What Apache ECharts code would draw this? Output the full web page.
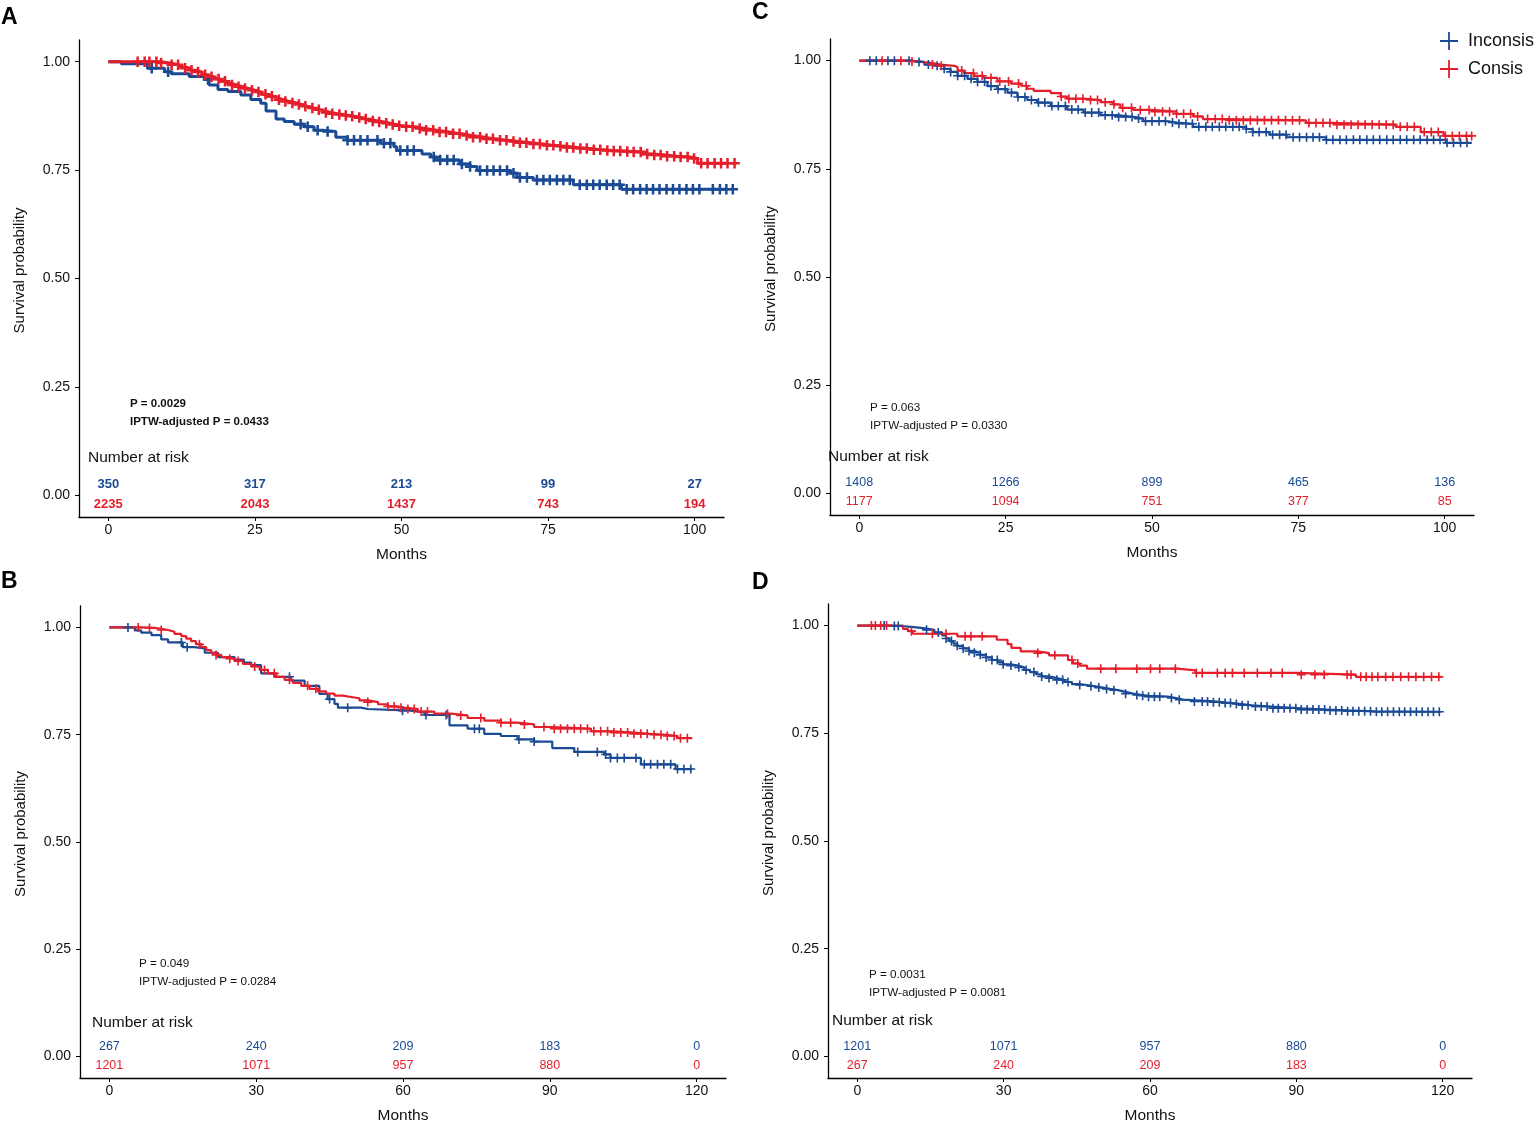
<!DOCTYPE html>
<html><head><meta charset="utf-8">
<script src="https://cdn.jsdelivr.net/npm/echarts@6/dist/echarts.min.js"></script>
<style>html,body{margin:0;padding:0;background:#fff}#c{width:1535px;height:1125px}</style>
</head><body><div id="c"></div>
<script>
// ================= DATA =================
const groupNames = ['Inconsis', 'Consis'];

// ---- Panel A ----
const aInconsisSteps = [[0,1],[2.2,0.995],[6.7,0.985],[9.6,0.977],[10.7,0.972],[13.8,0.966],[16.4,0.959],[17.2,0.946],[18.7,0.936],[20.4,0.931],[22.6,0.923],[24.3,0.913],[26,0.904],[26.9,0.886],[28.6,0.868],[30,0.862],[31.7,0.856],[33.4,0.85],[35.1,0.842],[36.5,0.839],[38.8,0.826],[40.8,0.819],[46.4,0.812],[48.7,0.804],[49.2,0.795],[53.5,0.787],[55,0.78],[56,0.773],[59.9,0.764],[61.7,0.758],[62.9,0.749],[68.5,0.743],[69.7,0.733],[72.5,0.727],[79.3,0.716],[87.5,0.706],[107.1,0.706]];
const aConsisSteps = [[0,1],[9,0.997],[10.5,0.993],[12,0.988],[13,0.985],[14,0.98],[15,0.976],[16,0.97],[17,0.965],[18,0.96],[19,0.955],[20,0.95],[21,0.946],[22,0.942],[23,0.938],[24,0.934],[25,0.93],[26,0.925],[27,0.92],[28,0.916],[29,0.912],[30,0.908],[31,0.905],[32,0.901],[33,0.897],[34,0.893],[35,0.889],[36,0.886],[37,0.883],[38,0.88],[39,0.878],[40,0.876],[41,0.874],[42,0.871],[43,0.868],[44,0.866],[45,0.863],[46,0.861],[47,0.858],[48,0.855],[49,0.852],[50,0.85],[52,0.846],[54,0.842],[56,0.838],[58,0.834],[60,0.83],[62,0.826],[64,0.822],[66,0.819],[68,0.816],[70,0.813],[72,0.81],[74,0.807],[76,0.805],[78,0.802],[80,0.8],[82,0.797],[84,0.795],[86,0.794],[88,0.793],[89.5,0.792],[91,0.787],[93,0.785],[95,0.782],[97,0.78],[99,0.777],[100.5,0.766],[107.1,0.766]];
const aInconsisCensor = [7.4,10.2,17.0,32.8,34.0,35.7,37.4,40.8,41.9,43.0,44.2,45.9,47.0,48.1,49.8,51.0,52.1,55.5,56.6,57.8,58.9,60.3,61.7,63.4,64.6,65.7,66.8,68.0,69.1,70.2,71.4,73.1,74.2,75.3,76.5,77.6,78.7,80.4,81.6,82.7,83.8,85.0,86.1,87.2,88.4,89.5,90.7,91.8,92.9,94.0,95.2,96.3,97.4,98.6,99.7,100.8,103.1,104.3,105.4,106.5];
const aConsisCensor = [5.0,6.2,7.0,8.2,9.0,10.8,11.9,13.1,14.2,15.3,16.5,17.6,18.8,19.9,21.1,22.2,23.3,24.5,25.6,26.8,27.9,29.1,30.2,31.4,32.5,33.6,34.8,35.9,37.1,38.2,39.4,40.5,41.6,42.8,43.9,45.1,46.2,47.4,48.5,49.6,50.8,51.9,53.1,54.2,55.4,56.5,57.6,58.8,59.9,61.1,62.2,63.4,64.5,65.6,66.8,67.9,69.1,70.2,71.3,72.5,73.6,74.8,75.9,77.1,78.2,79.3,80.5,81.6,82.8,83.9,85.1,86.2,87.3,88.5,89.6,90.8,91.9,93.1,94.2,95.3,96.5,97.6,98.8,99.9,101.1,102.2,103.4,104.5,105.6,106.8];
const aRiskTimes = [0,25,50,75,100];
const aRiskInconsis = [350,317,213,99,27];
const aRiskConsis = [2235,2043,1437,743,194];
const aTicks = [0,25,50,75,100];

// ---- Panel C ----
const cInconsisSteps = [[0,1],[8.8,0.997],[11.1,0.991],[12.8,0.988],[14.5,0.981],[15.6,0.974],[16.8,0.965],[18.5,0.958],[20.2,0.951],[21.9,0.941],[23.6,0.934],[25.3,0.926],[27,0.916],[28.7,0.909],[30.4,0.903],[32.7,0.895],[35.5,0.887],[38.3,0.88],[41.2,0.874],[44,0.87],[46.8,0.866],[48.5,0.86],[52.5,0.857],[54.2,0.854],[57,0.847],[66.1,0.842],[67.2,0.835],[70.1,0.829],[73,0.823],[79.7,0.817],[100.2,0.81],[104.6,0.81]];
const cConsisSteps = [[0,1],[8.3,0.998],[10,0.995],[12.2,0.991],[13.9,0.988],[16.2,0.985],[16.8,0.977],[17.9,0.971],[19.6,0.965],[21.3,0.96],[23.6,0.952],[25.9,0.947],[27.6,0.942],[28.7,0.935],[29.8,0.93],[32.7,0.925],[34.4,0.917],[35.5,0.912],[38.3,0.909],[41.2,0.904],[43.4,0.899],[44.6,0.891],[46.8,0.886],[49.7,0.882],[54.2,0.877],[57,0.871],[58.7,0.865],[62.7,0.862],[76.3,0.856],[80.8,0.852],[91.6,0.847],[95.9,0.835],[99.8,0.826],[104.6,0.826]];
const cInconsisCensor = [1.8,2.9,4.9,6.0,8.5,10.2,11.8,13.3,14.5,15.6,16.8,18.0,19.1,20.2,21.4,22.5,23.7,24.9,26.0,27.1,28.3,29.4,30.6,31.7,32.9,34.0,35.2,36.3,37.4,38.6,39.7,40.9,42.0,43.2,44.3,45.5,46.6,47.7,48.9,50.0,51.2,52.3,53.5,54.6,55.8,56.9,58.0,59.2,60.3,61.5,62.6,63.8,64.9,66.1,67.2,68.3,69.5,70.6,71.8,72.9,74.1,75.2,76.4,77.5,78.6,79.8,80.9,82.1,83.2,84.4,85.5,86.7,87.8,88.9,90.1,91.2,92.4,93.5,94.7,95.8,97.0,98.1,99.2,100.4,101.5,102.7,103.8];
const cConsisCensor = [3.9,7.1,9.0,12.5,14.0,17.5,19.5,21.0,22.5,24.0,25.5,27.2,28.5,34.5,35.8,37.0,38.2,39.5,40.7,42.0,43.5,45.0,46.5,48.0,49.5,50.5,51.8,53.0,54.2,55.4,56.6,57.8,59.5,60.8,62.0,63.2,64.4,65.6,66.8,68.0,69.2,70.4,71.6,72.8,74.0,75.2,76.8,78.0,79.2,80.4,81.6,82.8,84.0,85.2,86.4,87.6,88.8,90.0,91.2,92.4,93.6,94.8,96.5,97.7,98.9,100.1,101.3,102.5,103.7,104.6];
const cRiskTimes = [0,25,50,75,100];
const cRiskInconsis = [1408,1266,899,465,136];
const cRiskConsis = [1177,1094,751,377,85];
const cTicks = [0,25,50,75,100];

// ---- Panel B ----
const bInconsisSteps = [[0,1],[5.2,0.993],[6.5,0.988],[8.6,0.982],[10.6,0.972],[12,0.965],[15,0.954],[17.4,0.951],[19.5,0.941],[22.2,0.931],[25.6,0.925],[27.5,0.918],[29,0.912],[31,0.893],[33.7,0.885],[37.1,0.876],[39.9,0.864],[42.9,0.845],[44.6,0.833],[46,0.822],[46.7,0.813],[51.4,0.81],[52.8,0.806],[61.6,0.802],[64.4,0.796],[69.5,0.772],[73.2,0.764],[76.6,0.752],[80,0.747],[83.4,0.739],[86.8,0.734],[90.5,0.719],[95,0.71],[101.1,0.704],[102.4,0.696],[108.6,0.681],[115.7,0.67],[119.1,0.67]];
const bConsisSteps = [[0,1],[6.5,0.999],[9.2,0.997],[10.6,0.994],[12,0.99],[13.3,0.985],[14.7,0.98],[15.7,0.974],[16.7,0.968],[17.7,0.961],[18.8,0.954],[19.8,0.947],[20.8,0.941],[21.8,0.936],[22.9,0.931],[24.2,0.927],[25.6,0.922],[27.3,0.915],[29,0.909],[30.7,0.901],[32.4,0.893],[34.1,0.885],[35.8,0.878],[37.5,0.871],[39.2,0.864],[40.9,0.857],[42.6,0.851],[44.3,0.846],[46,0.841],[47.7,0.838],[49.4,0.835],[51.1,0.83],[52.8,0.826],[54.9,0.821],[56.9,0.816],[58.5,0.813],[60.3,0.81],[63,0.804],[66.4,0.799],[69.8,0.795],[73.2,0.789],[76.6,0.783],[80,0.778],[83.4,0.774],[86.8,0.768],[90.2,0.764],[98.4,0.758],[103,0.755],[107.2,0.752],[110.5,0.75],[114,0.747],[116,0.742],[119.1,0.742]];
const bInconsisCensor = [3.8,14.7,15.9,36.8,45.0,48.7,59.9,64.7,68.8,74.6,75.6,83.7,86.8,95.7,99.7,101.4,102.4,103.8,105.2,107.6,109.3,110.6,112.0,113.3,114.7,116.1,117.4,118.8];
const bConsisCensor = [5.9,8.2,10.6,18.4,21.8,24.6,26.3,29.7,31.7,33.7,36.8,40.5,42.2,52.8,56.9,58.2,59.6,61.0,62.3,63.7,65.0,69.1,71.8,75.9,80.0,82.0,84.8,88.8,90.9,92.2,93.6,95.0,96.3,97.7,99.0,100.4,101.8,103.1,104.5,105.9,107.2,108.6,109.9,111.3,112.7,114.0,115.4,116.7,118.1];
const bRiskTimes = [0,30,60,90,120];
const bRiskInconsis = [267,240,209,183,0];
const bRiskConsis = [1201,1071,957,880,0];
const bTicks = [0,30,60,90,120];

// ---- Panel D ----
const dInconsisSteps = [[0,1],[6.4,0.999],[8.8,0.997],[11.1,0.994],[13.5,0.99],[15.8,0.984],[17.4,0.977],[18.2,0.97],[18.9,0.964],[19.7,0.958],[20.5,0.953],[21.7,0.947],[22.9,0.941],[24,0.937],[25.2,0.932],[26.4,0.926],[27.6,0.92],[28.8,0.915],[29.9,0.91],[31.5,0.907],[33,0.903],[34.2,0.897],[35.4,0.892],[36.6,0.887],[37.8,0.882],[39.3,0.878],[40.9,0.874],[42.4,0.869],[44,0.864],[45.5,0.862],[47.1,0.859],[48.7,0.856],[50.3,0.853],[51.8,0.85],[53.4,0.846],[55,0.842],[56.5,0.839],[58.1,0.837],[59.7,0.835],[63.6,0.832],[65.1,0.828],[66.7,0.824],[73,0.822],[75,0.82],[76.9,0.818],[78.8,0.815],[80.8,0.812],[84.8,0.808],[91,0.805],[96,0.803],[100.4,0.801],[106,0.8],[119.6,0.799]];
const dConsisSteps = [[0,1],[9.4,0.992],[10.4,0.987],[11.4,0.981],[20.5,0.975],[28.6,0.967],[30.8,0.957],[31.6,0.948],[33.5,0.94],[37,0.936],[39.3,0.931],[43.2,0.92],[44.2,0.912],[45.6,0.907],[47.1,0.9],[65.6,0.896],[69.3,0.89],[90,0.886],[102.2,0.881],[119.6,0.881]];
const dInconsisCensor = [5.5,7.6,8.4,14.2,16.6,18.2,19.3,20.5,21.7,22.9,24.0,25.2,26.4,27.6,28.7,29.9,31.5,33.1,34.6,36.2,37.8,39.3,40.9,42.1,43.2,45.6,47.9,49.5,51.1,52.6,55.0,57.3,58.5,59.7,60.9,62.0,64.4,66.0,69.1,70.7,71.8,73.0,74.2,75.4,76.5,77.7,78.9,80.1,81.6,82.8,84.0,85.2,86.3,87.5,88.7,89.9,91.0,92.2,93.4,94.6,95.8,96.9,98.1,99.3,100.5,101.6,102.8,104.0,105.2,106.4,107.5,108.7,109.9,111.1,112.2,113.4,114.6,115.8,117.0,118.1,119.3];
const dConsisCensor = [2.9,3.7,4.8,6.0,11.1,15.4,18.2,22.1,23.3,25.6,37.0,40.5,44.0,45.2,49.9,53.0,57.3,60.1,62.0,65.2,69.5,70.7,73.8,75.4,76.9,79.3,82.0,84.8,87.1,91.0,93.8,95.7,100.4,101.2,103.2,104.3,105.5,106.7,108.3,109.8,111.4,113.0,114.5,116.1,117.7,119.2];
const dRiskTimes = [0,30,60,90,120];
const dRiskInconsis = [1201,1071,957,880,0];
const dRiskConsis = [267,240,209,183,0];
const dTicks = [0,30,60,90,120];

const yTicks = [0, 0.25, 0.5, 0.75, 1];
const pTexts = {
  A: ['P = 0.0029', 'IPTW-adjusted P = 0.0433'],
  C: ['P = 0.063', 'IPTW-adjusted P = 0.0330'],
  B: ['P = 0.049', 'IPTW-adjusted P = 0.0284'],
  D: ['P = 0.0031', 'IPTW-adjusted P = 0.0081']
};

// ================= STYLE / LAYOUT =================
const BLUE = '#1a4a94';
const RED = '#e41e2b';
const FONT = '"Liberation Sans", Arial, Helvetica, sans-serif';
const ROW_INCONSIS = 0.024;   // risk table row positions (y-axis units)
const ROW_CONSIS = -0.02;
const PLUS = 'path://M4.1,0h1.8v4.1h4.1v1.8h-4.1v4.1h-1.8v-4.1h-4.1v-1.8h4.1z';
const PLUS_BOLD = 'path://M3.8,0h2.4v3.8h3.8v2.4h-3.8v3.8h-2.4v-3.8h-3.8v-2.4h3.8z';
const LEGEND_PLUS = 'path://M9,0h2v9h9v2h-9v9h-2v-9h-9v-2h9z';

const panels = [
  {letter:'A', grid:{left:79, top:40, width:645, height:477}, xr:[-5,105], ticks:aTicks,
   steps:[aInconsisSteps, aConsisSteps], cens:[aInconsisCensor, aConsisCensor],
   risk:[aRiskTimes, aRiskInconsis, aRiskConsis], bold:true, lw:3, ms:10.5,
   letterPos:[1,18], pPos:[130,404], nrPos:[88,458]},
  {letter:'C', grid:{left:830, top:39, width:644, height:476}, xr:[-5,105], ticks:cTicks,
   steps:[cInconsisSteps, cConsisSteps], cens:[cInconsisCensor, cConsisCensor],
   risk:[cRiskTimes, cRiskInconsis, cRiskConsis], bold:false, lw:2.2, ms:9,
   letterPos:[752,13], pPos:[870,408], nrPos:[828,457]},
  {letter:'B', grid:{left:80, top:606, width:646, height:476}, xr:[-6,126], ticks:bTicks,
   steps:[bInconsisSteps, bConsisSteps], cens:[bInconsisCensor, bConsisCensor],
   risk:[bRiskTimes, bRiskInconsis, bRiskConsis], bold:false, lw:2.2, ms:9,
   letterPos:[1,582], pPos:[139,964], nrPos:[92,1023]},
  {letter:'D', grid:{left:828, top:604, width:644, height:475}, xr:[-6,126], ticks:dTicks,
   steps:[dInconsisSteps, dConsisSteps], cens:[dInconsisCensor, dConsisCensor],
   risk:[dRiskTimes, dRiskInconsis, dRiskConsis], bold:false, lw:2.2, ms:9,
   letterPos:[752,583], pPos:[869,975], nrPos:[832,1021]}
];

function survAt(steps, t) {
  let s = steps[0][1];
  for (const p of steps) { if (p[0] <= t + 1e-9) s = p[1]; else break; }
  return s;
}

const grids = [], xAxes = [], yAxes = [], series = [], graphics = [];
const colors = [BLUE, RED];

panels.forEach((P, i) => {
  grids.push(Object.assign({containLabel:false}, P.grid));
  xAxes.push({
    type:'value', gridIndex:i, min:P.xr[0], max:P.xr[1],
    name:'Months', nameLocation:'middle', nameGap:30,
    nameTextStyle:{fontSize:15.5, fontFamily:FONT, color:'#111'},
    axisLine:{show:true, onZero:false, lineStyle:{color:'#000', width:1.3}},
    axisTick:{show:true, length:4, customValues:P.ticks, lineStyle:{color:'#000', width:1}},
    axisLabel:{customValues:P.ticks, fontSize:14, fontFamily:FONT, color:'#111', margin:6},
    splitLine:{show:false}
  });
  yAxes.push({
    type:'value', gridIndex:i, min:-0.05, max:1.05,
    name:'Survival probability', nameLocation:'middle', nameGap:52,
    nameTextStyle:{fontSize:15, fontFamily:FONT, color:'#111', padding:[0,0,0,16]},
    axisLine:{show:true, onZero:false, lineStyle:{color:'#000', width:1.3}},
    axisTick:{show:true, length:4, customValues:yTicks, lineStyle:{color:'#000', width:1}},
    axisLabel:{customValues:yTicks, fontSize:14, fontFamily:FONT, color:'#111', margin:9,
      formatter:v => Number(v).toFixed(2)},
    splitLine:{show:false}
  });
  for (let g = 0; g < 2; g++) {
    const steps = P.steps[g];
    series.push({
      type:'line', name:groupNames[g], xAxisIndex:i, yAxisIndex:i, step:'end',
      data:steps, symbol:'none', clip:false, silent:true,
      itemStyle:{color:colors[g]}, lineStyle:{color:colors[g], width:P.lw}, z:2+g
    });
    series.push({
      type:'scatter', name:groupNames[g] + ' censored', xAxisIndex:i, yAxisIndex:i,
      data:P.cens[g].map(t => [t, survAt(steps, t)]),
      symbol:P.bold ? PLUS_BOLD : PLUS, symbolSize:P.ms, clip:false, silent:true,
      itemStyle:{color:colors[g], opacity:1}, z:3+g
    });
    const counts = P.risk[g+1];
    series.push({
      type:'scatter', name:groupNames[g] + ' at risk', xAxisIndex:i, yAxisIndex:i,
      data:P.risk[0].map((t, k) => [t, g === 0 ? ROW_INCONSIS : ROW_CONSIS, counts[k]]),
      symbolSize:1, itemStyle:{color:'rgba(0,0,0,0)', opacity:1}, clip:false, silent:true,
      label:{show:true, position:'inside', formatter:p => String(p.value[2]), opacity:1,
        color:colors[g], fontSize:P.bold ? 13 : 12.5, fontWeight:P.bold ? 'bold' : 'normal', fontFamily:FONT}
    });
  }
  graphics.push({type:'text', x:P.letterPos[0], y:P.letterPos[1],
    style:{text:P.letter, fill:'#000', font:'bold 23px ' + FONT, verticalAlign:'middle'}});
  const pt = pTexts[P.letter];
  const pfont = (P.bold ? 'bold 11.5px ' : '11.7px ') + FONT;
  graphics.push({type:'text', x:P.pPos[0], y:P.pPos[1],
    style:{text:pt[0], fill:'#111', font:pfont, verticalAlign:'middle'}});
  graphics.push({type:'text', x:P.pPos[0], y:P.pPos[1] + 18,
    style:{text:pt[1], fill:'#111', font:pfont, verticalAlign:'middle'}});
  graphics.push({type:'text', x:P.nrPos[0], y:P.nrPos[1],
    style:{text:'Number at risk', fill:'#111', font:'15.5px ' + FONT, verticalAlign:'middle'}});
});

const chart = echarts.init(document.getElementById('c'), null, {renderer:'canvas'});
chart.setOption({
  animation:false,
  backgroundColor:'#fff',
  grid:grids, xAxis:xAxes, yAxis:yAxes, series:series,
  legend:{
    data:groupNames, orient:'vertical', left:1435, top:27, itemWidth:20, itemHeight:18, itemGap:10,
    icon:LEGEND_PLUS, selectedMode:false,
    textStyle:{fontSize:18, fontFamily:FONT, color:'#111', padding:[0,0,0,4]}
  },
  graphic:graphics
});
</script></body></html>
